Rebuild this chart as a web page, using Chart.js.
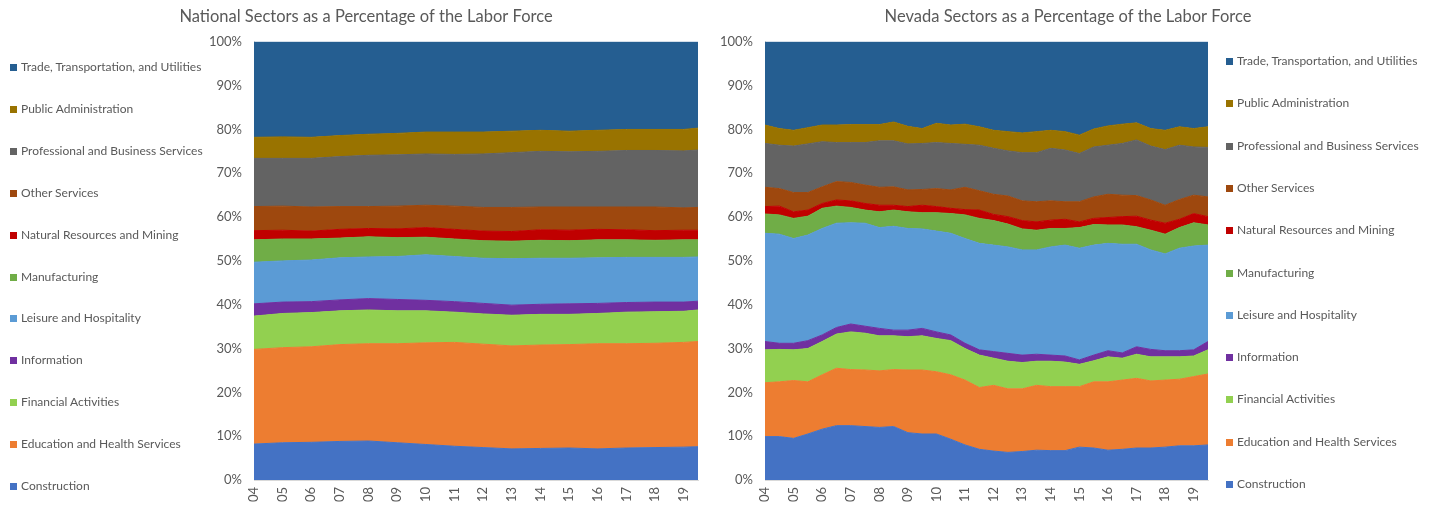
<!DOCTYPE html>
<html>
<head>
<meta charset="utf-8">
<script src="https://cdn.jsdelivr.net/npm/chart.js@4.4.1/dist/chart.umd.min.js"></script>
<style>
  html, body { margin: 0; padding: 0; background: #fff; }
  body { width: 1429px; height: 506px; position: relative; overflow: hidden;
         font-family: Lato, 'Open Sans', sans-serif; }
  .panel { position: absolute; top: 0; height: 506px; }
  #natPanel { left: 0; width: 712px; }
  #nvPanel  { left: 712px; width: 717px; }
  .legend { position: absolute; top: 0; left: 0; margin: 0; padding: 0; list-style: none; }
  .legend li { position: absolute; white-space: nowrap; font-size: 12px; line-height: 14px; color: #595959; }
  .legend li span { display: inline-block; width: 7px; height: 7px; margin-right: 4px; vertical-align: 0; }
</style>
</head>
<body>
<div class="panel" id="natPanel"><canvas id="natChart" width="712" height="506"></canvas></div>
<div class="panel" id="nvPanel"><canvas id="nvChart" width="717" height="506"></canvas></div>
<ul class="legend" id="natLegend"></ul>
<ul class="legend" id="nvLegend"></ul>

<script>
'use strict';

// ── Sectors (bottom of the stack first) ──────────────
const sectors = [
  'Construction', 'Education and Health Services', 'Financial Activities', 'Information',
  'Leisure and Hospitality', 'Manufacturing', 'Natural Resources and Mining', 'Other Services',
  'Professional and Business Services', 'Public Administration', 'Trade, Transportation, and Utilities'
];
const sectorColors = [
  '#4472C4', '#ED7D31', '#92D050', '#7030A0', '#5B9BD5', '#70AD47',
  '#C00000', '#9E480E', '#636363', '#997300', '#255E91'
];

// ── X axis ticks ──────────────────────────────────────
const tickYears  = [2004, 2005, 2006, 2007, 2008, 2009, 2010, 2011, 2012, 2013, 2014, 2015, 2016, 2017, 2018, 2019];
const tickLabels = ['04', '05', '06', '07', '08', '09', '10', '11', '12', '13', '14', '15', '16', '17', '18', '19'];

// ── National shares (% of labor force), yearly ───────
const natYears = [2004, 2005, 2006, 2007, 2008, 2009, 2010, 2011, 2012, 2013, 2014, 2015, 2016, 2017, 2018, 2019, 2019.5];
const natConstruction = [8.2, 8.5, 8.6, 8.8, 8.9, 8.5, 8.1, 7.7, 7.4, 7.1, 7.2, 7.3, 7.1, 7.3, 7.4, 7.5, 7.6];
const natEducation    = [21.6, 21.7, 21.8, 22.1, 22.2, 22.6, 23.2, 23.7, 23.6, 23.5, 23.6, 23.6, 24.0, 23.8, 23.8, 23.9, 24.0];
const natFinancial    = [7.6, 7.8, 7.8, 7.7, 7.7, 7.5, 7.3, 6.9, 6.9, 7.0, 7.0, 6.9, 6.9, 7.2, 7.2, 7.1, 7.2];
const natInformation  = [2.8, 2.6, 2.5, 2.5, 2.6, 2.6, 2.4, 2.4, 2.4, 2.3, 2.3, 2.4, 2.3, 2.2, 2.2, 2.1, 2.0];
const natLeisure      = [9.5, 9.4, 9.5, 9.6, 9.5, 9.8, 10.4, 10.3, 10.3, 10.6, 10.5, 10.4, 10.4, 10.3, 10.2, 10.2, 10.1];
const natManufact     = [5.1, 5.0, 4.8, 4.5, 4.6, 4.3, 4.0, 4.0, 4.0, 4.0, 4.1, 4.0, 4.1, 4.0, 3.9, 4.0, 3.9];
const natNatural      = [2.1, 2.0, 1.8, 2.0, 1.9, 2.0, 2.2, 2.2, 2.2, 2.2, 2.4, 2.4, 2.4, 2.3, 2.2, 2.2, 2.2];
const natOther        = [5.5, 5.5, 5.5, 5.2, 5.0, 5.2, 5.1, 5.3, 5.4, 5.5, 5.2, 5.3, 5.1, 5.2, 5.4, 5.1, 5.2];
const natProfessional = [11.0, 10.9, 11.1, 11.4, 11.7, 11.7, 11.7, 11.8, 12.2, 12.5, 12.7, 12.6, 12.7, 12.9, 12.9, 13.0, 13.1];
const natPublic       = [4.8, 4.9, 4.8, 4.8, 4.8, 4.9, 5.0, 5.1, 5.0, 4.9, 4.8, 4.7, 4.8, 4.8, 4.8, 4.9, 5.0];
const natTrade        = [21.8, 21.7, 21.8, 21.4, 21.1, 20.9, 20.6, 20.6, 20.6, 20.4, 20.2, 20.4, 20.2, 20.0, 20.0, 20.0, 19.7];

// ── Nevada shares (% of labor force), half-yearly ────
const nvYears = [2004, 2004.5, 2005, 2005.5, 2006, 2006.5, 2007, 2007.5, 2008, 2008.5, 2009, 2009.5,
                 2010, 2010.5, 2011, 2011.5, 2012, 2012.5, 2013, 2013.5, 2014, 2014.5, 2015, 2015.5,
                 2016, 2016.5, 2017, 2017.5, 2018, 2018.5, 2019, 2019.5];
const nvConstruction = [9.9, 9.9, 9.5, 10.5, 11.6, 12.4, 12.4, 12.2, 12.0, 12.2, 10.8, 10.5, 10.5, 9.3, 8.0, 7.0,
                        6.6, 6.3, 6.5, 6.8, 6.7, 6.7, 7.5, 7.3, 6.8, 7.0, 7.3, 7.3, 7.5, 7.8, 7.8, 8.0];
const nvEducation    = [12.3, 12.5, 13.2, 11.9, 12.4, 13.1, 12.8, 12.9, 12.9, 13.0, 14.3, 14.6, 14.2, 14.7, 14.8, 14.1,
                        15.0, 14.5, 14.3, 14.8, 14.6, 14.6, 13.8, 15.1, 15.6, 15.8, 15.9, 15.3, 15.3, 15.2, 15.8, 16.2];
const nvFinancial    = [7.5, 7.4, 7.0, 7.6, 7.6, 7.8, 8.6, 8.4, 8.0, 7.7, 7.6, 7.8, 7.6, 7.8, 7.2, 7.4,
                        6.2, 6.3, 6.0, 5.5, 5.8, 5.6, 5.1, 4.8, 5.7, 5.0, 5.5, 5.5, 5.3, 5.1, 4.7, 5.5];
const nvInformation  = [1.9, 1.4, 1.5, 1.8, 1.5, 1.5, 1.8, 1.6, 1.7, 1.3, 1.5, 1.7, 1.5, 1.3, 1.2, 1.2,
                        1.5, 1.8, 1.7, 1.6, 1.4, 1.4, 1.0, 1.3, 1.4, 1.2, 1.7, 1.7, 1.4, 1.4, 1.4, 1.9];
const nvLeisure      = [24.7, 24.9, 23.9, 24.1, 24.3, 23.8, 23.1, 23.5, 23.0, 23.7, 23.2, 22.7, 23.0, 23.2, 23.9, 24.3,
                        24.3, 24.3, 24.0, 23.8, 24.7, 25.3, 25.5, 25.1, 24.5, 24.8, 23.4, 22.7, 22.1, 23.4, 23.7, 22.0];
const nvManufact     = [4.4, 4.4, 4.6, 4.3, 4.6, 3.9, 3.5, 3.0, 3.6, 3.7, 3.8, 3.7, 4.2, 4.5, 5.4, 5.7,
                        5.6, 5.2, 4.8, 4.5, 4.2, 3.8, 4.7, 4.7, 4.2, 4.4, 4.0, 4.5, 4.5, 4.7, 5.3, 4.6];
const nvNatural      = [1.7, 2.0, 1.5, 1.4, 1.1, 1.4, 1.5, 1.5, 1.5, 1.1, 1.2, 1.7, 1.4, 1.2, 1.2, 1.9,
                        1.4, 1.7, 1.9, 1.9, 1.9, 2.1, 1.3, 1.4, 1.7, 1.9, 2.4, 2.3, 2.5, 1.9, 2.1, 1.9];
const nvOther        = [4.4, 4.0, 4.4, 4.0, 3.8, 4.2, 4.2, 4.2, 4.1, 4.2, 3.8, 3.6, 4.1, 4.2, 5.1, 4.4,
                        4.6, 4.7, 4.5, 4.6, 4.4, 4.0, 4.6, 4.9, 5.3, 4.9, 4.7, 4.6, 4.1, 4.5, 4.2, 4.5];
const nvProfessional = [10.0, 9.9, 10.6, 11.1, 10.3, 8.9, 9.1, 9.7, 10.6, 10.5, 10.5, 10.5, 10.5, 10.6, 9.8, 10.4,
                        10.5, 10.3, 11.0, 11.2, 12.0, 11.8, 11.0, 11.4, 11.2, 11.8, 12.7, 12.3, 12.7, 12.4, 11.0, 11.3];
const nvPublic       = [4.2, 3.8, 3.6, 3.7, 3.8, 4.0, 4.1, 4.1, 3.7, 4.3, 4.0, 3.4, 4.4, 4.2, 4.6, 4.2,
                        4.1, 4.4, 4.5, 4.8, 4.1, 4.2, 4.2, 4.1, 4.4, 4.4, 3.9, 4.0, 4.4, 4.2, 4.2, 4.7];
const nvTrade        = [19.0, 19.8, 20.2, 19.6, 19.0, 19.0, 18.9, 18.9, 18.9, 18.3, 19.3, 19.8, 18.6, 19.0, 18.8, 19.4,
                        20.2, 20.5, 20.8, 20.5, 20.2, 20.5, 21.3, 19.9, 19.2, 18.8, 18.5, 19.8, 20.2, 19.4, 19.8, 19.4];

const natSeries = [natConstruction, natEducation, natFinancial, natInformation, natLeisure, natManufact,
                   natNatural, natOther, natProfessional, natPublic, natTrade];
const nvSeries  = [nvConstruction, nvEducation, nvFinancial, nvInformation, nvLeisure, nvManufact,
                   nvNatural, nvOther, nvProfessional, nvPublic, nvTrade];

const textColor = '#595959';
const fontFamily = "Lato, 'Open Sans', sans-serif";

// ── Build one stacked-area chart ─────────────────────
function makeChart(canvasId, title, years, series, layout) {
  const datasets = series.map((vals, i) => ({
    label: sectors[i],
    data: vals.map((v, j) => ({ x: years[j], y: v })),
    backgroundColor: sectorColors[i],
    borderColor: sectorColors[i],
    borderWidth: 1,
    pointRadius: 0,
    tension: 0,
    fill: i === 0 ? 'origin' : '-1',
  }));

  const scales = {
    x: {
      type: 'linear',
      min: 2004,
      max: 2019.5,
      grid: { display: false, drawTicks: false },
      border: { display: true, color: '#d9d9d9' },
      afterBuildTicks: axis => { axis.ticks = tickYears.map(v => ({ value: v })); },
      afterFit: s => { s.height = 26; },
      ticks: {
        autoSkip: false,
        minRotation: 90,
        maxRotation: 90,
        padding: 7,
        color: textColor,
        font: { family: fontFamily, size: 13 },
        callback: (v, i) => tickLabels[i],
      },
    },
    y: {
      stacked: true,
      min: 0,
      max: 100,
      grid: { display: false, drawTicks: false },
      border: { display: true, color: '#d9d9d9' },
      afterFit: s => { s.width = layout.yWidth; },
      ticks: {
        stepSize: 10,
        padding: 12,
        color: textColor,
        font: { family: fontFamily, size: 13 },
        callback: v => v + '%',
      },
    },
  };
  if (layout.rightWidth) {
    // empty right-hand axis that leaves room for the legend
    scales.y2 = {
      position: 'right',
      grid: { display: false, drawTicks: false },
      border: { display: false },
      ticks: { display: false },
      afterFit: s => { s.width = layout.rightWidth; },
    };
  }

  return new Chart(document.getElementById(canvasId), {
    type: 'line',
    data: { datasets },
    options: {
      responsive: false,
      animation: false,
      layout: { padding: layout.padding },
      plugins: {
        legend: { display: false },
        tooltip: { enabled: false },
        title: {
          display: true,
          text: title,
          color: textColor,
          font: { family: fontFamily, size: 16.5, weight: 'normal' },
          padding: { top: 7, bottom: 15 },
        },
      },
      scales,
    },
  });
}

// ── HTML legend (top entry = top of the stack) ───────
function makeLegend(listId, chart, boxX, firstY, stepY) {
  const list = document.getElementById(listId);
  const items = chart.data.datasets.slice().reverse();
  items.forEach((ds, i) => {
    const li = document.createElement('li');
    li.style.left = boxX + 'px';
    li.style.top = (firstY + i * stepY - 7) + 'px';
    li.innerHTML = '<span style="background:' + ds.backgroundColor + '"></span>' + ds.label;
    list.appendChild(li);
  });
}

const natChart = makeChart('natChart', 'National Sectors as a Percentage of the Labor Force',
  natYears, natSeries, { yWidth: 220, padding: { left: 34, right: 14, top: 0, bottom: 0 } });
const nvChart = makeChart('nvChart', 'Nevada Sectors as a Percentage of the Labor Force',
  nvYears, nvSeries, { yWidth: 53, rightWidth: 216, padding: { left: 0, right: 5, top: 0, bottom: 0 } });

makeLegend('natLegend', natChart, 10, 67, 41.9);
makeLegend('nvLegend', nvChart, 1226, 61, 42.3);
</script>
</body>
</html>
